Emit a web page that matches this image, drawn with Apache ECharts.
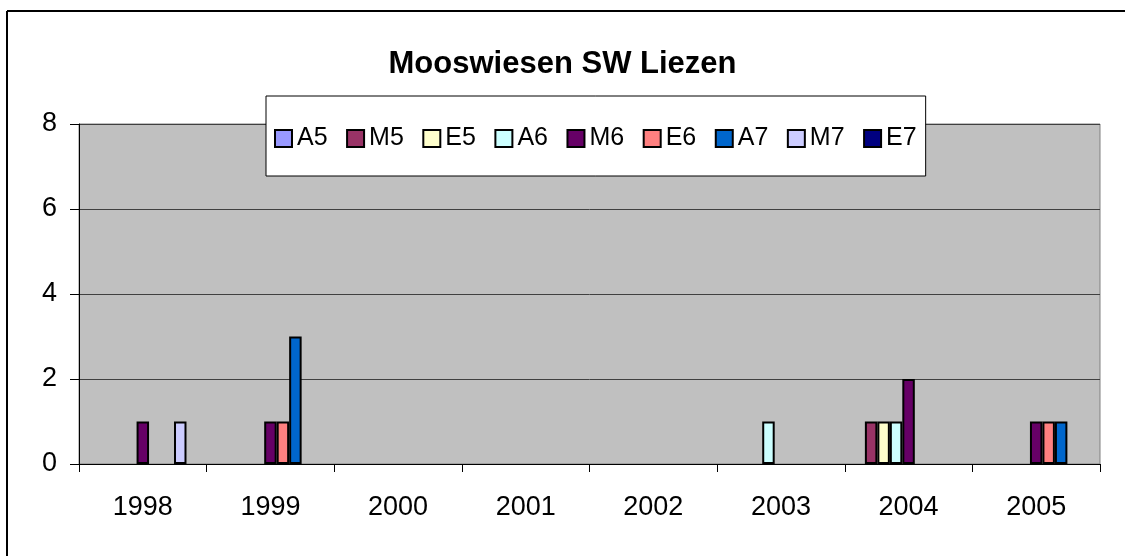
<!DOCTYPE html>
<html>
<head>
<meta charset="utf-8">
<script src="https://cdn.jsdelivr.net/npm/echarts@6/dist/echarts.min.js"></script>
<style>
  html, body { margin:0; padding:0; background:#fff; }
  #chart { width:1125px; height:556px; }
</style>
</head>
<body>
<div id="chart"></div>
<script>
var years = ['1998','1999','2000','2001','2002','2003','2004','2005'];
var seriesNames = ['A5','M5','E5','A6','M6','E6','A7','M7','E7'];
var seriesColors = ['#9999FF','#993366','#FFFFCC','#CCFFFF','#660066','#FF8080','#0066CC','#CCCCFF','#000080'];
// null = empty cell
var A5 = [null,null,null,null,null,null,null,null];
var M5 = [null,null,null,null,null,null,1,null];
var E5 = [null,null,null,null,null,null,1,null];
var A6 = [null,null,null,null,null,1,1,null];
var M6 = [1,1,null,null,null,null,2,1];
var E6 = [null,1,null,null,null,null,null,1];
var A7 = [null,3,null,null,null,null,null,1];
var M7 = [1,null,null,null,null,null,null,null];
var E7 = [null,null,null,null,null,null,null,null];
var yTicks = [0,2,4,6,8];

var allData = [A5,M5,E5,A6,M6,E6,A7,M7,E7];

var chart = echarts.init(document.getElementById('chart'));

var series = seriesNames.map(function (n, i) {
    return {
        name: n,
        type: 'bar',
        data: allData[i],
        barGap: '0%',
        barCategoryGap: '12%',
        itemStyle: { color: seriesColors[i], borderColor: '#000', borderWidth: 2 },
        emphasis: { disabled: true }
    };
});

option = {
    backgroundColor: '#fff',
    animation: false,
    textStyle: { fontFamily: 'Liberation Sans, Arial, sans-serif' },
    title: {
        text: 'Mooswiesen SW Liezen',
        left: 'center',
        top: 44,
        textStyle: { fontSize: 31, fontWeight: 'bold', color: '#000', fontFamily: 'Liberation Sans, Arial, sans-serif' }
    },
    legend: {
        data: seriesNames,
        left: 266,
        top: 96,
        orient: 'horizontal',
        itemWidth: 17,
        itemHeight: 17,
        itemGap: 18.5,
        padding: [30, 9, 25, 8],
        backgroundColor: '#fff',
        borderColor: '#000',
        borderWidth: 1,
        icon: 'rect',
        textStyle: { fontSize: 25, color: '#000', padding: [0, 0, 0, 0] },
        zlevel: 1
    },
    grid: {
        left: 79, right: 25, top: 124, bottom: 92,
        show: true,
        backgroundColor: '#C0C0C0',
        borderColor: '#808080',
        borderWidth: 1
    },
    xAxis: {
        type: 'category',
        data: years,
        axisLine: { lineStyle: { color: '#000', width: 1 } },
        axisTick: { show: true, length: 8, lineStyle: { color: '#000' } },
        axisLabel: { fontSize: 27, color: '#000', margin: 30 },
        splitLine: { show: false }
    },
    yAxis: {
        type: 'value',
        min: yTicks[0],
        max: yTicks[yTicks.length - 1],
        interval: 2,
        axisLine: { show: true, lineStyle: { color: '#000', width: 1 } },
        axisTick: { show: true, length: 9, lineStyle: { color: '#000' } },
        axisLabel: { fontSize: 27, color: '#000', margin: 22 },
        splitLine: { show: true, lineStyle: { color: '#404040', width: 1 } }
    },
    graphic: [
        { type: 'line', shape: { x1: 7, y1: 11, x2: 1125, y2: 11 }, style: { stroke: '#000', lineWidth: 2 } },
        { type: 'line', shape: { x1: 7, y1: 11, x2: 7, y2: 556 }, style: { stroke: '#000', lineWidth: 2 } }
    ],
    series: series
};

chart.setOption(option);
</script>
</body>
</html>
